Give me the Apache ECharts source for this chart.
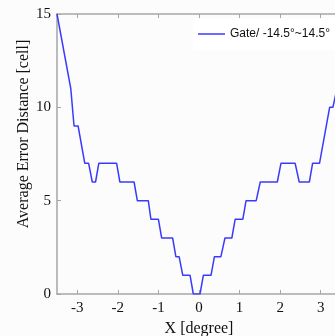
<!DOCTYPE html>
<html>
<head>
<meta charset="utf-8">
<script src="https://cdn.jsdelivr.net/npm/echarts@6/dist/echarts.min.js"></script>
<style>html,body{margin:0;padding:0;background:#fcfcfc;}#c{width:335px;height:336px;}</style>
</head>
<body>
<div id="c"></div>
<script>
// Corner points of the staircase curve (X in degrees, Y in cells)
const xValues = [-3.5, -3.16, -3.08, -2.98, -2.815, -2.72, -2.63, -2.55, -2.47, -2.03, -1.95, -1.6, -1.52, -1.25, -1.185, -1.0, -0.92, -0.65, -0.57, -0.49, -0.40, -0.22, -0.14, 0.025, 0.107, 0.296, 0.38, 0.54, 0.64, 0.81, 0.89, 1.08, 1.16, 1.41, 1.51, 1.93, 2.02, 2.37, 2.47, 2.72, 2.80, 2.97, 3.22, 3.30, 3.40];
const yValues = [15, 11, 9, 9, 7, 7, 6, 6, 7, 7, 6, 6, 5, 5, 4, 4, 3, 3, 2, 2, 1, 1, 0, 0, 1, 1, 2, 2, 3, 3, 4, 4, 5, 5, 6, 6, 7, 7, 6, 6, 7, 7, 10, 10, 11];
const xTickLabels = [-3, -2, -1, 0, 1, 2, 3];
const seriesName = 'Gate/ -14.5°~14.5°';
const xTitle = 'X [degree]';
const yTitle = 'Average Error Distance [cell]';

const data = xValues.map((x, i) => [x, yValues[i]]);
const axisColor = '#a6a6a6';
const serif = 'Liberation Serif';

const chart = echarts.init(document.getElementById('c'), null, {renderer: 'canvas'});
chart.setOption({
  backgroundColor: '#fcfcfc',
  animation: false,
  grid: {left: 57, top: 14, right: -6, bottom: 42, containLabel: false, outerBoundsMode: 'none'},
  legend: {
    left: 193, top: 18, padding: [10, 6, 10, 5],
    backgroundColor: '#ffffff',
    itemWidth: 27, itemHeight: 1.5, itemGap: 5,
    icon: 'rect',
    textStyle: {fontFamily: 'Liberation Sans', fontSize: 12, color: '#111'},
    data: [seriesName]
  },
  xAxis: [{
    type: 'value', min: -3.5, max: 3.5, interval: 1,
    name: xTitle, nameLocation: 'middle', nameGap: 24,
    nameTextStyle: {fontFamily: serif, fontSize: 16, color: '#111'},
    axisLine: {show: true, onZero: false, lineStyle: {color: axisColor, width: 1.5}},
    axisTick: {show: true, inside: true, length: 4, lineStyle: {color: axisColor}, customValues: xTickLabels},
    axisLabel: {fontFamily: serif, fontSize: 15, color: '#111', margin: 7, customValues: xTickLabels},
    splitLine: {show: false}
  }, {
    type: 'value', min: -3.5, max: 3.5, interval: 1, position: 'top',
    axisLine: {show: true, onZero: false, lineStyle: {color: axisColor, width: 1.5}},
    axisTick: {show: true, inside: true, length: 4, lineStyle: {color: axisColor}, customValues: xTickLabels},
    axisLabel: {show: false, customValues: xTickLabels},
    splitLine: {show: false}
  }],
  yAxis: {
    type: 'value', min: 0, max: 15, interval: 5,
    axisLine: {show: true, onZero: false, lineStyle: {color: axisColor, width: 1.5}},
    axisTick: {show: true, inside: true, length: 4, lineStyle: {color: axisColor}},
    axisLabel: {fontFamily: serif, fontSize: 15, color: '#111', margin: 6},
    splitLine: {show: false}
  },
  graphic: [{
    type: 'text', x: 24, y: 134, rotation: Math.PI / 2,
    style: {text: yTitle, fontFamily: serif, fontSize: 16, fill: '#111',
      textAlign: 'center', textVerticalAlign: 'middle'}
  }],
  series: [{
    name: seriesName, type: 'line', data: data, xAxisIndex: 0,
    showSymbol: false, symbol: 'none',
    lineStyle: {color: '#3a3aff', width: 1.5},
    itemStyle: {color: '#3a3aff'},
    clip: true
  }]
});
</script>
</body>
</html>
